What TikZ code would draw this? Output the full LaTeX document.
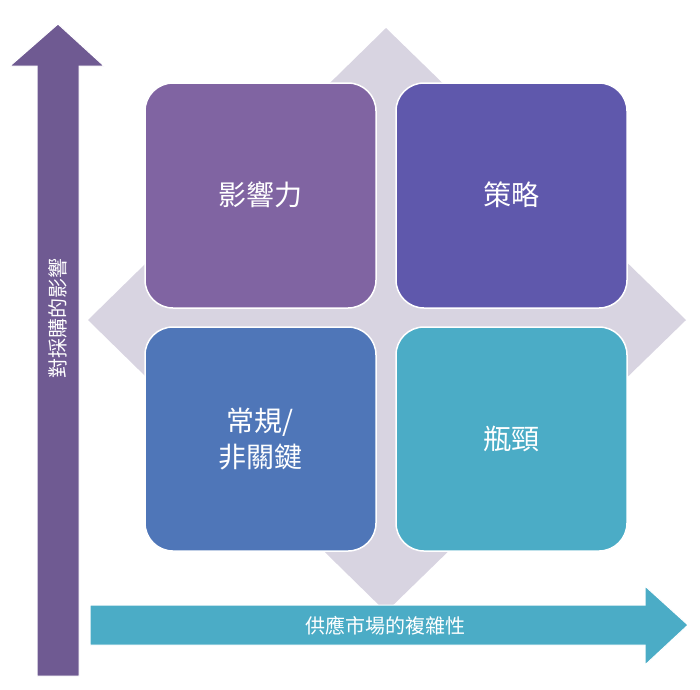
\documentclass[tikz,border=0pt]{standalone}
\usepackage{fontspec}
\newfontfamily\cjk{Noto Sans CJK TC}
\begin{document}
\begin{tikzpicture}[x=1pt,y=-1pt,
  box/.style={draw=white,line width=1.5pt,rounded corners=28pt,text=white,font=\cjk\fontsize{28}{36}\selectfont,align=center},
  arr/.style={draw=white,line width=1pt}]
\useasboundingbox (0,0) rectangle (700,689);
\definecolor{dia}{HTML}{D8D4E1}
\definecolor{c1}{HTML}{8064A2}
\definecolor{c2}{HTML}{5F58AC}
\definecolor{c3}{HTML}{4F76B8}
\definecolor{c4}{HTML}{4BACC6}
\definecolor{va}{HTML}{6F5A92}
\fill[dia] (386,28) -- (686,320) -- (386,612) -- (88,320) -- cycle;
\path[box,fill=c1] (145,83) rectangle (376,308);
\path[box,fill=c2] (396,83) rectangle (627,308);
\path[box,fill=c3] (145,327) rectangle (376,551);
\path[box,fill=c4] (396,327) rectangle (627,551);
\node[box,draw=none] (a) at (260,195) {影響力};
\node[box,draw=none] (b) at (511,195) {策略};
\node[box,draw=none] (c) at (260,439) {常規/\\非關鍵};
\node[box,draw=none] (d) at (511,439) {瓶頸};
\path[arr,fill=va] (37,676) -- (37,66) -- (10,66) -- (58,24) -- (104,66) -- (79,66) -- (79,676) -- cycle;
\node[rotate=90,text=white,font=\cjk\fontsize{20}{24}\selectfont] (v) at (58,318) {對採購的影響};
\path[arr,fill=c4] (90,605) -- (645,605) -- (645,586) -- (688,625) -- (645,665) -- (645,645) -- (90,645) -- cycle;
\node[text=white,font=\cjk\fontsize{20}{24}\selectfont] (h) at (385,626) {供應市場的複雜性};
\end{tikzpicture}
\end{document}
